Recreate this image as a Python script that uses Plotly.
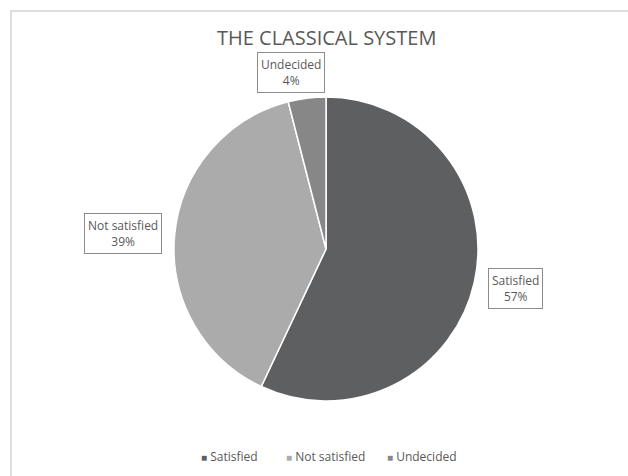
import plotly.graph_objects as go

W, H = 628, 476

title = "THE CLASSICAL SYSTEM"
categories = ["Satisfied", "Not satisfied", "Undecided"]
values = [57, 39, 4]
colors = ["#5e5f61", "#ababab", "#878787"]

# label box centers (pixels)
label_pos = [(515, 288), (123, 233), (291, 72)]
legend_pos = [(230, 456), (325, 456), (422, 456)]

def px(x):
    return x / W

def py(y):
    return 1 - y / H

cx, cy, r = 326, 249, 152

fig = go.Figure()
fig.add_trace(go.Pie(
    labels=categories,
    values=values,
    sort=False,
    direction="clockwise",
    rotation=0,
    marker=dict(colors=colors, line=dict(color="white", width=1.5)),
    textinfo="none",
    hoverinfo="label+percent",
    domain=dict(x=[px(cx - r), px(cx + r)], y=[py(cy + r), py(cy - r)]),
    showlegend=False,
))

font_family = "Open Sans, Liberation Sans, sans-serif"
annotations = []
for cat, val, (lx, ly) in zip(categories, values, label_pos):
    annotations.append(dict(
        x=px(lx), y=py(ly), xref="paper", yref="paper",
        text=f"{cat}<br>{val}%", showarrow=False,
        font=dict(family=font_family, size=12, color="#595959"),
        bordercolor="#8c8c8c", borderwidth=1, borderpad=3, bgcolor="white",
        align="center", xanchor="center", yanchor="middle",
    ))

for cat, col, (lx, ly) in zip(categories, colors, legend_pos):
    annotations.append(dict(
        x=px(lx), y=py(ly), xref="paper", yref="paper",
        text=f"<span style='color:{col};font-size:10px'>■</span> {cat}", showarrow=False,
        font=dict(family=font_family, size=12, color="#595959"),
        xanchor="center", yanchor="middle",
    ))

annotations.append(dict(
    x=px(326), y=py(38), xref="paper", yref="paper",
    text=title, showarrow=False,
    font=dict(family=font_family, size=20, color="#595959"),
    xanchor="center", yanchor="middle",
))

fig.update_layout(
    width=W, height=H,
    margin=dict(l=0, r=0, t=0, b=0),
    paper_bgcolor="white",
    plot_bgcolor="white",
    annotations=annotations,
    shapes=[dict(type="rect", xref="paper", yref="paper",
                 x0=px(11), x1=px(W + 10), y0=py(H + 10), y1=py(11),
                 line=dict(color="#d4d4d4", width=1.5))],
)

fig.write_html("out.html")
